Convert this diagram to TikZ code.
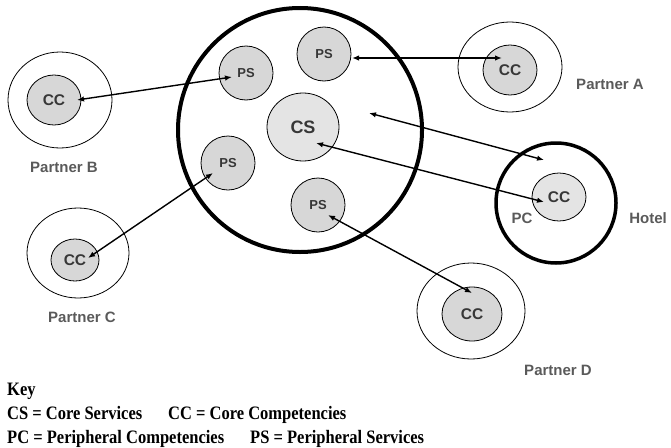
\documentclass[tikz,border=0pt]{standalone}
\usepackage{fontspec}
\setmainfont{Liberation Serif}
\newfontfamily\arialfont{Liberation Sans}
\usetikzlibrary{shapes.geometric,arrows.meta,calc}
\definecolor{labelgray}{RGB}{90,90,90}
\definecolor{textgray}{RGB}{55,55,55}
\definecolor{fillgray}{RGB}{215,215,215}
\definecolor{lightfill}{RGB}{228,228,228}
\newcommand{\tallkey}[1]{\scalebox{1}[1.15]{#1}}

\begin{document}
\begin{tikzpicture}[x=1pt,y=-1pt,
    firm/.style={ellipse,draw,line width=0.8pt,inner sep=0pt},
    comp/.style={ellipse,draw,line width=0.8pt,fill=fillgray,inner sep=0pt,text=textgray,
      font=\arialfont\bfseries\fontsize{15.5}{16}\selectfont},
    service/.style={comp,minimum size=54pt,font=\arialfont\bfseries\fontsize{13}{14}\selectfont},
    lbl/.style={text=labelgray,inner sep=0pt,font=\arialfont\bfseries\fontsize{15}{16}\selectfont},
    link/.style={{Latex[length=7pt,width=5.5pt]}-{Latex[length=7pt,width=5.5pt]},line width=1.4pt},
    keytext/.style={anchor=base west,inner sep=0pt,font=\bfseries\fontsize{16.5}{18}\selectfont}]
  \useasboundingbox (0,0) rectangle (671,447);
  % Hotel network (big circle)
  \node[circle,draw,line width=4pt,minimum size=244pt] (hub) at (300,130) {};
  \node[service] (ps1) at (246,73) {PS};
  \node[service] (ps2) at (324,54) {PS};
  \node[service] (ps3) at (228,163) {PS};
  \node[service] (ps4) at (318,205) {PS};
  \node[comp,fill=lightfill,minimum width=72pt,minimum height=68pt,
    font=\arialfont\bfseries\fontsize{18}{18}\selectfont] (cs) at (303,127) {CS};
  % Hotel
  \node[circle,draw,line width=3.5pt,minimum size=120pt] (hotel) at (556,203) {};
  \node[comp,fill=lightfill,minimum width=54pt,minimum height=48pt] (hcc) at (559,197) {CC};
  \node[lbl] (pc) at (522,218) {PC};
  \node[lbl] (hotellbl) at (648,218) {Hotel};
  % Partners
  \node[firm,minimum width=104pt,minimum height=90pt] (pa) at (510,67) {};
  \node[comp,minimum width=54pt,minimum height=50pt] (cca) at (510,70) {CC};
  \node[lbl] (palbl) at (610,84) {Partner A};
  \node[firm,minimum width=104pt,minimum height=96pt] (pb) at (60,100) {};
  \node[comp,minimum width=54pt,minimum height=50pt] (ccb) at (54,100) {CC};
  \node[lbl] (pblbl) at (64,167) {Partner B};
  \node[firm,minimum width=102pt,minimum height=90pt] (pcc) at (78,253) {};
  \node[comp,minimum width=48pt,minimum height=42pt] (ccc) at (75,260) {CC};
  \node[lbl] (pclbl) at (82,317) {Partner C};
  \node[firm,minimum width=108pt,minimum height=96pt] (pd) at (471,311) {};
  \node[comp,minimum width=60pt,minimum height=54pt] (ccd) at (472,314) {CC};
  \node[lbl] (pdlbl) at (558,370) {Partner D};
  % Links
  \draw[link] ($(ps1)+(-14,4)$) -- ($(ccb)+(23,0)$);
  \draw[link] ($(ps2)+(28,4)$) -- ($(cca)+(-8,-12)$);
  \draw[link] ($(hub)+(69,-17)$) -- ($(hotel)+(-12,-43)$);
  \draw[link] ($(cs)+(13,16)$) -- ($(hcc)+(-15,5)$);
  \draw[link] ($(ps3)+(-15,10)$) -- ($(ccc)+(13,-2)$);
  \draw[link] ($(ps4)+(10,10)$) -- ($(ccd)+(0,-21)$);
  % Key
  \node[keytext] (key) at (7,395) {\tallkey{Key}};
  \node[keytext] (keycs) at (7,419) {\tallkey{CS = Core Services}};
  \node[keytext] (keycc) at (168,419) {\tallkey{CC = Core Competencies}};
  \node[keytext] (keypc) at (7,443) {\tallkey{PC = Peripheral Competencies}};
  \node[keytext] (keyps) at (250,443) {\tallkey{PS = Peripheral Services}};
\end{tikzpicture}
\end{document}
